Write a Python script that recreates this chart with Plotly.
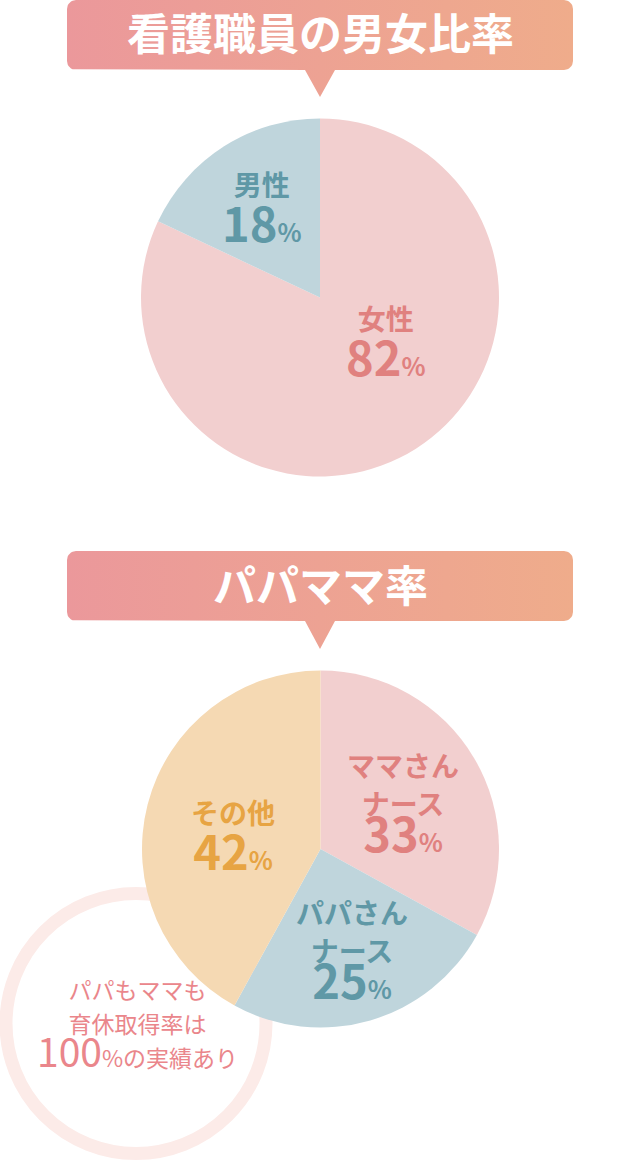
import math
import plotly.graph_objects as go

# ---- data ----
gender_labels = ["女性", "男性"]
gender_values = [82, 18]
gender_colors = ["#f2cfcf", "#bfd5dc"]
gender_text_colors = ["#e0817f", "#5f98a6"]

parent_labels = ["ママさん<br>ナース", "パパさん<br>ナース", "その他"]
parent_values = [33, 25, 42]
parent_colors = ["#f2cfcf", "#bfd5dc", "#f5d9b3"]
parent_text_colors = ["#e0817f", "#5f98a6", "#e7a443"]

title1 = "看護職員の男女比率"
title2 = "パパママ率"
note_lines = ["パパもママも", "育休取得率は"]
note_big = "100"
note_rest = "%の実績あり"

W, H = 640, 1161
FONT = "Noto Sans CJK JP"

fig = go.Figure()


def banner(x0, y0, x1, y1, r, tx, tw, ty):
    xs, ys = [], []
    def arc(cx, cy, a0, a1):
        for i in range(9):
            a = math.radians(a0 + (a1 - a0) * i / 8)
            xs.append(cx + r * math.cos(a))
            ys.append(cy + r * math.sin(a))
    arc(x0 + r, y0 + r, 180, 270)
    arc(x1 - r, y0 + r, 270, 360)
    arc(x1 - r, y1 - r, 0, 90)
    xs += [tx + tw, tx, tx - tw]
    ys += [y1, ty, y1]
    arc(x0 + r, y1 - r, 90, 180)
    xs.append(xs[0]); ys.append(ys[0])
    return xs, ys


for (by0, by1, bty) in [(0, 70, 97), (551, 621, 649)]:
    bx, byy = banner(67, by0, 573, by1, 9, 320, 15, bty)
    fig.add_trace(go.Scatter(
        x=bx, y=byy, mode="lines", fill="toself", line=dict(width=0),
        fillgradient=dict(type="horizontal",
                          colorscale=[[0, "#eb989b"], [1, "#efac8b"]]),
        hoverinfo="skip", showlegend=False))

# ring behind the lower pie
fig.add_shape(type="circle", xref="x", yref="y",
              x0=136 - 130, x1=136 + 130, y0=1023.5 - 130, y1=1023.5 + 130,
              line=dict(color="#fcebe8", width=13), fillcolor="white",
              layer="below")


def dom(px0, px1, py0, py1):
    return dict(x=[px0 / W, px1 / W], y=[1 - py1 / H, 1 - py0 / H])


fig.add_trace(go.Pie(
    labels=gender_labels, values=gender_values, sort=False,
    direction="clockwise", rotation=0,
    marker=dict(colors=gender_colors, line=dict(width=0)),
    textinfo="none", hoverinfo="skip", showlegend=False,
    domain=dom(141, 499, 118, 477)))

fig.add_trace(go.Pie(
    labels=parent_labels, values=parent_values, sort=False,
    direction="clockwise", rotation=0,
    marker=dict(colors=parent_colors, line=dict(width=0)),
    textinfo="none", hoverinfo="skip", showlegend=False,
    domain=dom(142, 499, 670, 1028)))

ann = []


def txt(x, y, s, size, color, bold=True):
    ann.append(dict(x=x, y=y, xref="x", yref="y", text=s, showarrow=False,
                    xanchor="center", yanchor="middle", align="center",
                    font=dict(family=FONT, size=size, color=color,
                              weight="bold" if bold else "normal")))


def sp(s, size):
    return f"<span style='font-size:{size}px'>{s}</span>"


def block(label, v):
    lines = [sp(p, 28) for p in label.split("<br>")]
    lines.append(sp(v, 47) + sp("%", 25))
    return "<br>".join(lines)


# titles
txt(320, 31, title1, 43, "white")
txt(320, 583, title2, 43, "white")

# top pie labels
txt(386, 344, block(gender_labels[0], gender_values[0]), 35,
    gender_text_colors[0])
txt(262, 210, block(gender_labels[1], gender_values[1]), 35,
    gender_text_colors[1])

# bottom pie labels
pos = [(403, 805, 29), (352, 952, 29), (233, 838, 35)]
for lab, v, c, (x, y, base) in zip(parent_labels, parent_values,
                                    parent_text_colors, pos):
    txt(x, y, block(lab, v), base, c)

# note in ring
note_c = "#ea868b"
note_text = "<br>".join([sp(note_lines[0], 23), sp(note_lines[1], 23),
                         sp(note_big, 39) + sp(note_rest, 23)])
txt(137, 1025, note_text, 26, note_c, bold=False)

fig.update_layout(
    width=W, height=H, margin=dict(l=0, r=0, t=0, b=0),
    paper_bgcolor="white", plot_bgcolor="white",
    xaxis=dict(range=[0, W], visible=False, fixedrange=True,
               domain=[0, 1]),
    yaxis=dict(range=[H, 0], visible=False, fixedrange=True,
               domain=[0, 1]),
    annotations=ann, showlegend=False)

fig.write_html("out.html", config={"displayModeBar": False},
               post_script="document.body.style.margin='0';")
